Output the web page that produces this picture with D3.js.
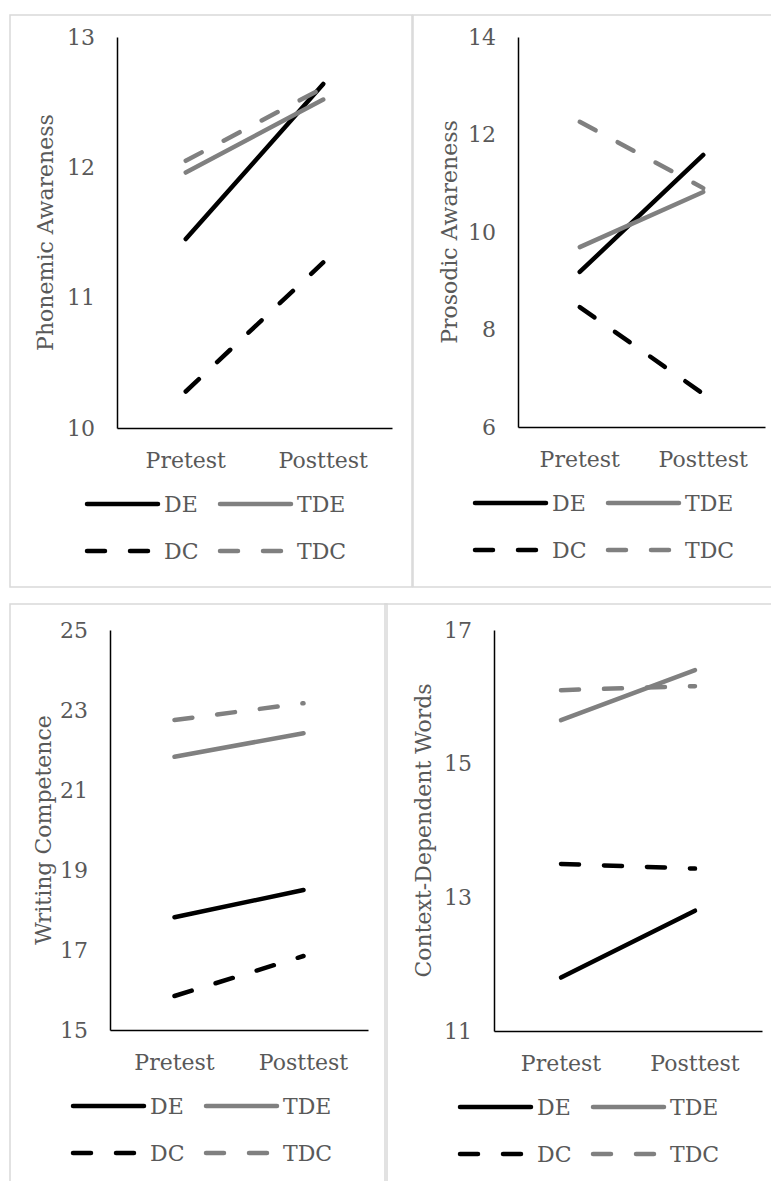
<!DOCTYPE html>
<html>
<head>
<meta charset="utf-8">
<script src="https://cdn.jsdelivr.net/npm/d3@7"></script>
<style>
  body { margin: 0; background: #fff; }
  svg { display: block; }
  text { font-family: "DejaVu Serif", "Liberation Serif", serif; fill: #595959; }
</style>
</head>
<body>
<div id="chart"></div>
<script>
// categories and series
var times = ["Pretest", "Posttest"];
var groups = ["DE", "TDE", "DC", "TDC"];

// values per group, in the order of groups: [pretest, posttest]
var phonemicValues = [[11.45, 12.64], [11.96, 12.52], [10.28, 11.27], [12.05, 12.61]];
var prosodicValues = [[9.18, 11.58], [9.69, 10.82], [8.46, 6.68], [12.26, 10.9]];
var writingValues = [[17.82, 18.5], [21.83, 22.42], [15.85, 16.85], [22.75, 23.17]];
var contextValues = [[11.8, 12.8], [15.65, 16.4], [13.5, 13.43], [16.1, 16.16]];

var yTitles = ["Phonemic Awareness", "Prosodic Awareness", "Writing Competence", "Context-Dependent Words"];
var yDomains = [[10, 13], [6, 14], [15, 25], [11, 17]];
var yTicks = [[10, 11, 12, 13], [6, 8, 10, 12, 14], [15, 17, 19, 21, 23, 25], [11, 13, 15, 17]];

var allValues = [phonemicValues, prosodicValues, writingValues, contextValues];

// line look per group
var groupColor = {DE: "#000000", TDE: "#808080", DC: "#000000", TDC: "#808080"};
var groupDash = {DE: null, TDE: null, DC: "18,25", TDC: "18,25"};

var fontSize = "22px";

// panel layout (pixels)
var panels = [
  {frame: [10, 15, 402, 572], left: 117, right: 392, top: 37, bottom: 428, titleX: 45, legendX: 87},
  {frame: [413, 15, 400, 572], left: 518, right: 765, top: 37, bottom: 427, titleX: 449, legendX: 475},
  {frame: [10, 604, 377, 620], left: 110, right: 368, top: 630, bottom: 1030, titleX: 43, legendX: 73},
  {frame: [385, 604, 420, 620], left: 494, right: 762, top: 630, bottom: 1031, titleX: 423, legendX: 460}
];

var svg = d3.select("#chart").append("svg")
  .attr("width", 771)
  .attr("height", 1181);

panels.forEach(function(p, i) {
  var g = svg.append("g");

  // panel frame
  g.append("rect")
    .attr("x", p.frame[0]).attr("y", p.frame[1])
    .attr("width", p.frame[2]).attr("height", p.frame[3])
    .attr("fill", "none").attr("stroke", "#d9d9d9").attr("stroke-width", 1.5);

  var x = d3.scaleBand().domain(times).range([p.left, p.right]);
  var y = d3.scaleLinear().domain(yDomains[i]).range([p.bottom, p.top]);

  // y axis: line only, labels to the left
  var yAxis = g.append("g")
    .attr("transform", "translate(" + p.left + ",0)")
    .call(d3.axisLeft(y).tickValues(yTicks[i]).tickSize(0).tickPadding(22).tickFormat(d3.format("d")));
  yAxis.select(".domain").attr("stroke", "#000").attr("stroke-width", 1.5);
  yAxis.selectAll("text")
    .attr("fill", "#595959")
    .style("font-family", "DejaVu Serif")
    .style("font-size", fontSize);

  // x axis
  var xAxis = g.append("g")
    .attr("transform", "translate(0," + p.bottom + ")")
    .call(d3.axisBottom(x).tickSize(0).tickPadding(24));
  xAxis.select(".domain").attr("stroke", "#000").attr("stroke-width", 1.5);
  xAxis.selectAll("text")
    .attr("fill", "#595959")
    .style("font-family", "DejaVu Serif")
    .style("font-size", fontSize);

  // y title
  g.append("text")
    .attr("transform", "translate(" + p.titleX + "," + ((p.top + p.bottom) / 2) + ") rotate(-90)")
    .attr("text-anchor", "middle")
    .attr("dy", "0.35em")
    .style("font-size", fontSize)
    .text(yTitles[i]);

  // series lines
  var line = d3.line()
    .x(function(d, j) { return x(times[j]) + x.bandwidth() / 2; })
    .y(function(d) { return y(d); });

  groups.forEach(function(name, k) {
    g.append("path")
      .datum(allValues[i][k])
      .attr("d", line)
      .attr("fill", "none")
      .attr("stroke", groupColor[name])
      .attr("stroke-width", 4.5)
      .attr("stroke-linecap", "round")
      .attr("stroke-dasharray", groupDash[name]);
  });

  // legend, two rows of two
  groups.forEach(function(name, k) {
    var lx = p.legendX + (k % 2) * 133;
    var ly = p.bottom + 76 + Math.floor(k / 2) * 47;
    g.append("line")
      .attr("x1", lx).attr("x2", lx + 71)
      .attr("y1", ly).attr("y2", ly)
      .attr("stroke", groupColor[name])
      .attr("stroke-width", 4.5)
      .attr("stroke-linecap", "round")
      .attr("stroke-dasharray", groupDash[name] ? "18,25" : null);
    g.append("text")
      .attr("x", lx + 77).attr("y", ly)
      .attr("dy", "0.35em")
      .style("font-size", fontSize)
      .text(name);
  });
});
</script>
</body>
</html>
